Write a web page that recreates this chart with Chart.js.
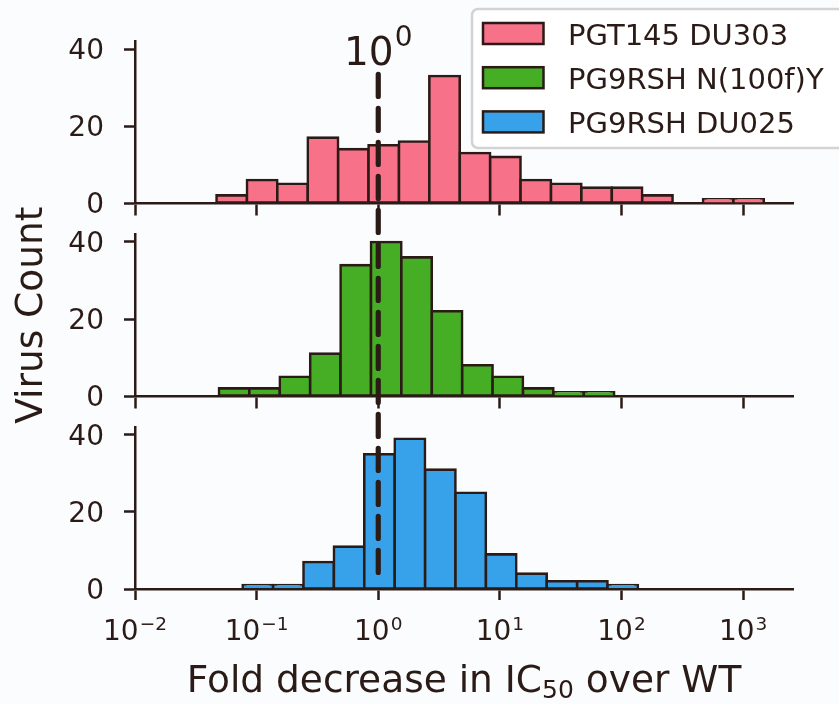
<!DOCTYPE html>
<html>
<head>
<meta charset="utf-8">
<script src="https://cdn.jsdelivr.net/npm/chart.js@4.4.1/dist/chart.umd.min.js"></script>
<style>
    html, body { margin: 0; padding: 0; background: #fbfcfe; }
    #hist-chart { display: block; }
</style>
</head>
<body>
<canvas id="hist-chart" width="839" height="704"></canvas>
<script>
/* bins are in log10(fold decrease), left edge of each bin */
var binWidth = 0.25;
var pgtEdges = [-1.33, -1.08, -0.83, -0.58, -0.33, -0.08, 0.17, 0.42, 0.67, 0.92, 1.17, 1.42, 1.67, 1.92, 2.17, 2.42, 2.67, 2.92];
var pgtCounts = [2, 6, 5, 17, 14, 15, 16, 33, 13, 12, 6, 5, 4, 4, 2, 0, 1, 1];
var n100Edges = [-1.31, -1.06, -0.81, -0.56, -0.31, -0.06, 0.19, 0.44, 0.69, 0.94, 1.19, 1.44, 1.69];
var n100Counts = [2, 2, 5, 11, 34, 40, 36, 22, 8, 5, 2, 1, 1];
var du025Edges = [-1.115, -0.865, -0.615, -0.365, -0.115, 0.135, 0.385, 0.635, 0.885, 1.135, 1.385, 1.635, 1.885];
var du025Counts = [1, 1, 7, 11, 35, 39, 31, 25, 9, 4, 2, 2, 1];

var seriesLabels = ['PGT145 DU303', 'PG9RSH N(100f)Y', 'PG9RSH DU025'];
var seriesColors = ['#f77189', '#46ae24', '#37a1ea'];

var xTicks = [-2, -1, 0, 1, 2, 3];
var xTickExponents = ['−2', '−1', '0', '1', '2', '3']; // labels are 10^exp
var yTicks = [0, 20, 40];
var xMin = -2, xMax = 3.41, yMax = 42;
var refValue = 0; // fold = 10^0

// x title with IC50 subscript: [text, isSubscript]
var xTitleParts = [['Fold decrease in IC', false], ['50', true], [' over WT', false]];
var yTitle = 'Virus Count';

var ink = '#2b1b17';
var font = 'DejaVu Sans';
var gapWeight = 8.1;

function toBins(edges, counts){
    var pts = [];
    for(var i = 0; i < edges.length; i++){
        pts.push({x: edges[i] + binWidth / 2, y: counts[i]});
    }
    return pts;
}

function histDataset(i, edges, counts){
    return {
        label: seriesLabels[i],
        data: toBins(edges, counts),
        xAxisID: 'x' + (i + 1),
        yAxisID: 'y' + (i + 1),
        backgroundColor: seriesColors[i],
        borderColor: ink,
        borderWidth: 2.6,
        borderSkipped: false,
        inflateAmount: 1.3,
        grouped: false,
        barPercentage: 1,
        categoryPercentage: 1
    };
}

function fixTicks(values){
    return function(scale){
        scale.ticks = values.map(function(v){ return {value: v}; });
    };
}

var tickGrid = {offset: false, drawOnChartArea: false, drawTicks: true, tickLength: 11, tickWidth: 2.5, tickColor: ink};
var spine = {display: true, color: ink, width: 2.5};

function panelY(weight){
    return {
        type: 'linear', axis: 'y', position: 'left',
        stack: 'panels', stackWeight: yMax, weight: weight,
        min: 0, max: yMax,
        afterBuildTicks: fixTicks(yTicks),
        afterFit: function(scale){ scale.width = 125.5; },
        border: spine,
        grid: tickGrid,
        ticks: {color: ink, padding: 20, labelOffset: 3, font: {family: font, size: 28}}
    };
}

function gapY(weight){
    return {type: 'linear', axis: 'y', position: 'left', stack: 'panels',
        stackWeight: gapWeight, weight: weight, display: false, min: 0, max: 1};
}

function panelX(position){
    return {
        type: 'linear', axis: 'x', position: position, offset: false,
        min: xMin, max: xMax,
        afterBuildTicks: fixTicks(xTicks),
        border: spine,
        grid: tickGrid,
        ticks: {display: false}
    };
}

var yPanel2 = panelY(3);
yPanel2.title = {display: true, text: yTitle, color: ink,
    font: {family: font, size: 37.5}, padding: {top: 0, bottom: 15}};

var xBottom = panelX('bottom');
xBottom.afterFit = function(scale){ scale.height = 115; };

/* x tick labels (10 with a superscript exponent) and the x title with IC50 subscript */
var xTextPlugin = {
    id: 'xText',
    afterDraw: function(chart){
        var ctx = chart.ctx;
        var scale = chart.scales.x3;
        var area = chart.chartArea;
        ctx.save();
        ctx.fillStyle = ink;
        ctx.textBaseline = 'alphabetic';
        ctx.textAlign = 'left';
        for(var i = 0; i < xTicks.length; i++){
            var px = scale.getPixelForValue(xTicks[i]);
            ctx.font = '28px "' + font + '"';
            var wBase = ctx.measureText('10').width;
            ctx.font = '18.5px "' + font + '"';
            var wExp = ctx.measureText(xTickExponents[i]).width;
            var left = px - (wBase + 1 + wExp) / 2;
            ctx.font = '28px "' + font + '"';
            ctx.fillText('10', left, 640);
            ctx.font = '18.5px "' + font + '"';
            ctx.fillText(xTickExponents[i], left + wBase + 1, 630);
        }
        var baseFont = '37.5px "' + font + '"';
        var subFont = '25px "' + font + '"';
        var total = 0;
        xTitleParts.forEach(function(p){
            ctx.font = p[1] ? subFont : baseFont;
            total += ctx.measureText(p[0]).width;
        });
        var x = (area.left + area.right) / 2 - total / 2;
        xTitleParts.forEach(function(p){
            ctx.font = p[1] ? subFont : baseFont;
            ctx.fillText(p[0], x, p[1] ? 697.5 : 691.7);
            x += ctx.measureText(p[0]).width;
        });
        ctx.restore();
    }
};

/* dashed line at 10^0 running through all three panels */
var refLinePlugin = {
    id: 'refLine',
    afterDatasetsDraw: function(chart){
        var ctx = chart.ctx;
        var x = chart.scales.x3.getPixelForValue(refValue);
        var top = chart.scales.y1.getPixelForValue(33.4);
        var bottom = chart.scales.y3.getPixelForValue(2.5);
        ctx.save();
        ctx.strokeStyle = ink;
        ctx.lineWidth = 5.2;
        ctx.lineCap = 'round';
        ctx.setLineDash([22, 12]);
        ctx.beginPath();
        ctx.moveTo(x, top);
        ctx.lineTo(x, bottom);
        ctx.stroke();
        ctx.setLineDash([]);
        // 10^0 label above the line
        ctx.fillStyle = ink;
        ctx.textBaseline = 'alphabetic';
        ctx.font = '39px "' + font + '"';
        var wBase = ctx.measureText('10').width;
        ctx.font = '28px "' + font + '"';
        var wSup = ctx.measureText('0').width;
        var start = x - (wBase + 1 + wSup) / 2;
        ctx.font = '39px "' + font + '"';
        ctx.fillText('10', start, 65);
        ctx.font = '28px "' + font + '"';
        ctx.fillText('0', start + wBase + 1, 46);
        ctx.restore();
    }
};

/* legend box in the top right corner */
var legendPlugin = {
    id: 'boxLegend',
    afterDraw: function(chart){
        var ctx = chart.ctx;
        ctx.save();
        ctx.beginPath();
        ctx.roundRect(472, 9, 390, 139, 6);
        ctx.fillStyle = 'rgba(255,255,255,0.85)';
        ctx.fill();
        ctx.lineWidth = 2.5;
        ctx.strokeStyle = '#d3d3d3';
        ctx.stroke();
        ctx.font = '29px "' + font + '"';
        ctx.textBaseline = 'alphabetic';
        chart.data.datasets.forEach(function(ds, i){
            var cy = 33.5 + i * 44.2;
            ctx.fillStyle = ds.backgroundColor;
            ctx.fillRect(483, cy - 10.5, 60.5, 21);
            ctx.lineWidth = 2.5;
            ctx.strokeStyle = ink;
            ctx.strokeRect(483, cy - 10.5, 60.5, 21);
            ctx.fillStyle = ink;
            ctx.fillText(ds.label, 568, cy + 11.5);
        });
        ctx.restore();
    }
};

var histctx = document.getElementById('hist-chart');
var histConfig = {
    type: 'bar',
    data: {
        datasets: [
            histDataset(0, pgtEdges, pgtCounts),
            histDataset(1, n100Edges, n100Counts),
            histDataset(2, du025Edges, du025Counts)
        ]
    },
    options: {
        responsive: false,
        animation: false,
        layout: {padding: {top: 41.3, left: 9.5, right: 46, bottom: 0}},
        plugins: {legend: {display: false}, tooltip: {enabled: false}},
        scales: {
            y1: panelY(5),
            yGap1: gapY(4),
            y2: yPanel2,
            yGap2: gapY(2),
            y3: panelY(1),
            x1: panelX({y1: 0}),
            x2: panelX({y2: 0}),
            x3: xBottom
        }
    },
    plugins: [refLinePlugin, xTextPlugin, legendPlugin]
};
var histChart = new Chart(histctx, histConfig);
</script>
</body>
</html>
